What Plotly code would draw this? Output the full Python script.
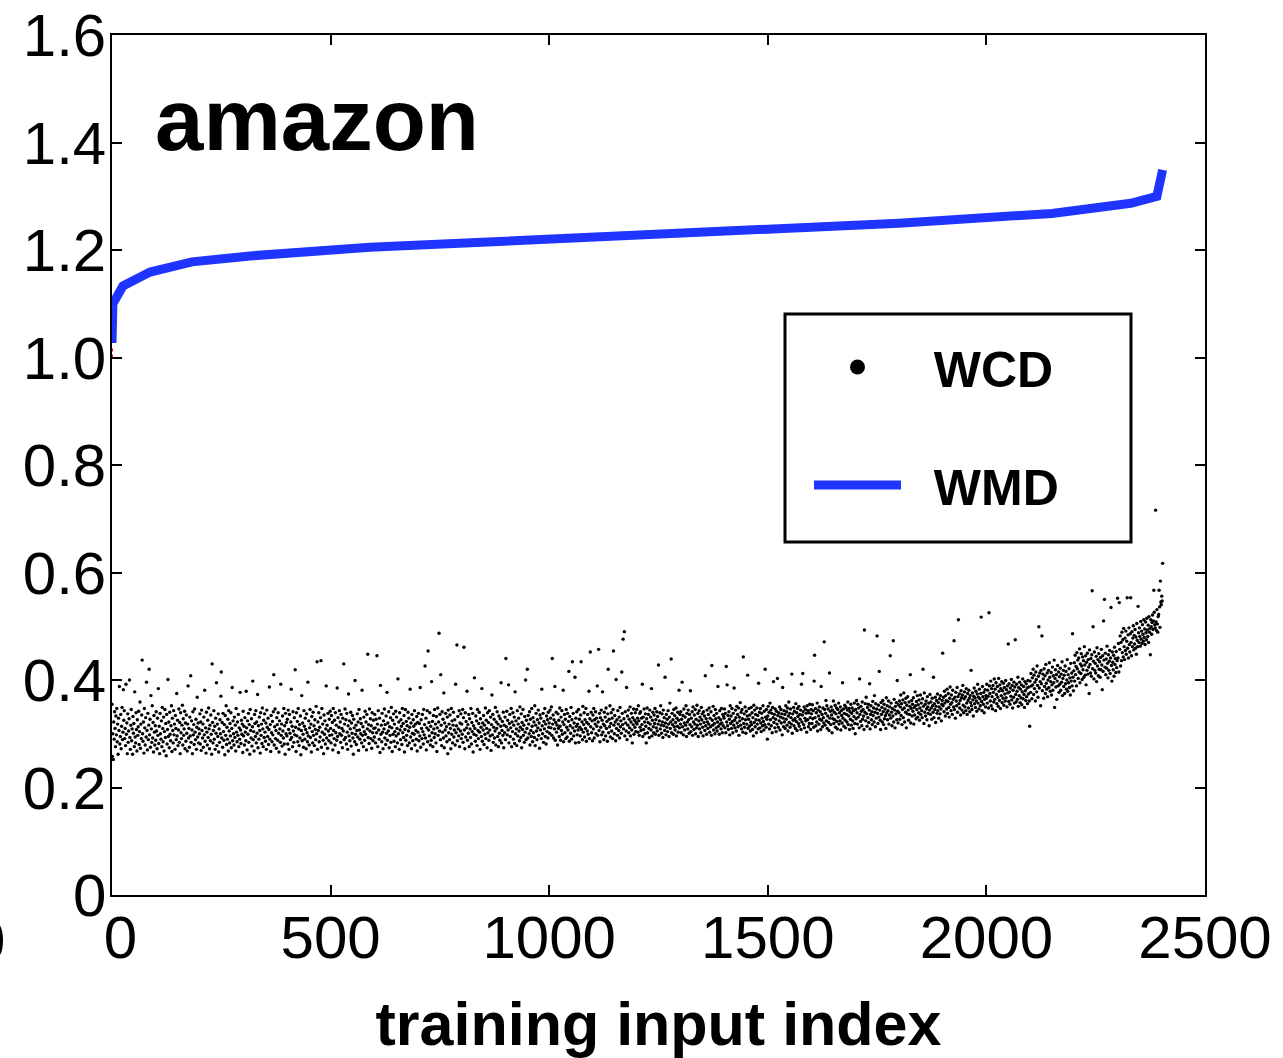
import plotly.graph_objects as go

# ---------------- data ----------------
x_tick_vals = [0, 500, 1000, 1500, 2000, 2500]
x_tick_text = ["\u00a00", "500", "1000", "1500", "2000", "2500"]
y_tick_vals = [0, 0.2, 0.4, 0.6, 0.8, 1.0, 1.2, 1.4, 1.6]
y_tick_text = ["0", "0.2", "0.4", "0.6", "0.8", "1.0", "1.2", "1.4", "1.6"]

# WMD curve (sorted distances), read at key indices
wmd_index = [0, 0, 2, 25, 87, 183, 316, 590, 1000, 1500, 1800, 2150, 2330, 2390, 2403]
wmd_value = [1.027, 1.09, 1.10, 1.133, 1.159, 1.178, 1.189, 1.205, 1.22, 1.237, 1.25, 1.268, 1.287, 1.30, 1.349]

# small red stub visible at x=0 just below the WMD start
red_index = [0, 0]
red_value = [1.0, 1.022]

# WCD values (in thousandths), one list per 100 training inputs
wcd_0000 = [355,258,300,252,322,290,341,310,276,333, 298,347,285,318,262,329,306,388,281,295, 336,272,314,349,289,303,382,325,343,291, 310,278,392,299,320,263,337,284,305,328, 400,293,271,316,345,287,309,262,332,301, 319,276,378,294,283,339,308,268,326,297, 313,342,280,304,359,273,318,291,335,437, 300,286,322,264,347,311,279,330,294,396, 306,270,338,289,316,420,298,327,275,371, 309,284,352,292,321,266,334,303,279,315]
wcd_0100 = [288,341,305,272,329,297,384,282,314,263, 338,300,290,324,276,349,310,285,331,268, 304,345,293,319,259,336,281,308,401,295, 322,274,340,299,287,315,352,267,329,306, 283,343,298,318,271,334,310,289,375,296, 325,278,307,346,284,321,263,339,302,291, 316,353,279,328,297,309,342,272,320,286, 335,301,268,318,389,292,310,275,331,296, 408,284,324,307,263,341,298,317,280,346, 303,289,327,271,312,368,294,320,283,309]
wcd_0200 = [300,337,281,322,269,344,306,292,318,275, 331,298,381,286,311,264,340,303,279,325, 293,348,309,272,316,287,335,299,262,430, 321,283,306,343,290,314,271,329,301,395, 278,318,295,337,266,309,284,326,300,370, 415,292,321,275,338,304,288,317,261,334, 297,352,280,312,290,327,268,343,305,283, 319,296,339,274,310,386,287,324,300,279, 331,293,316,268,347,303,285,322,297,336, 276,311,290,377,307,282,325,299,318,265]
wcd_0300 = [342,296,314,279,330,303,287,379,311,270, 324,299,338,284,317,262,345,306,292,328, 277,313,398,289,304,268,336,319,295,343, 283,322,301,373,274,315,290,331,306,264, 339,297,318,282,348,309,276,325,293,337, 303,286,320,271,344,312,295,329,280,308, 387,290,317,267,334,302,285,323,298,341, 410,279,313,346,291,306,273,330,317,288, 339,301,266,324,309,284,392,297,318,277, 333,305,292,347,281,315,262,338,300,321]
wcd_0400 = [296,327,281,344,308,271,336,301,289,322, 383,293,314,276,341,305,284,330,298,419, 312,267,339,296,323,285,347,309,278,317, 292,333,261,306,371,287,320,299,275,343, 314,290,329,308,272,337,302,285,396,296, 324,279,311,345,293,318,266,332,304,283, 340,297,315,278,326,308,289,351,300,434, 271,322,306,339,285,312,294,330,436,275, 347,303,318,288,263,335,299,324,281,309, 389,292,316,273,338,305,287,327,297,342]
wcd_0500 = [310,283,334,298,321,270,347,306,291,325, 279,339,302,316,288,385,295,330,265,312, 343,300,322,284,336,297,310,274,329,305, 430,289,318,346,293,326,281,338,303,271, 315,374,296,324,287,309,340,277,320,301, 334,292,262,327,311,285,399,299,316,280, 306,337,294,322,269,345,307,290,328,300, 319,283,381,297,313,276,331,304,288,342, 299,322,270,336,309,448,293,317,282,346, 305,328,291,315,273,339,302,287,325,310]
wcd_0600 = [294,336,311,283,327,302,445,318,276,343, 307,290,329,265,390,299,316,285,338,303, 272,324,309,346,292,317,280,333,301,377, 288,320,305,341,274,313,297,330,284,349, 311,267,325,299,337,286,318,304,276,342, 296,331,310,283,402,300,322,271,339,307, 289,326,314,280,347,302,319,293,334,266, 308,345,288,323,297,315,278,340,305,329, 283,312,383,294,320,272,336,301,287,326, 314,299,343,279,318,306,290,332,268,321]
wcd_0700 = [303,338,287,319,296,386,275,326,310,291, 336,304,281,345,298,317,426,292,329,270, 311,343,285,454,307,321,296,339,279,314, 288,397,302,323,276,334,309,293,345,300, 318,283,332,267,311,348,297,322,487,305, 336,289,410,316,278,341,303,327,292,376, 274,320,307,338,296,313,285,331,263,344, 302,318,289,335,310,272,347,299,324,283, 316,340,294,307,326,279,392,302,315,465, 287,332,309,296,343,276,320,305,337,291]
wcd_0800 = [318,299,345,284,330,461,307,272,339,294, 323,311,379,288,317,301,336,276,328,309, 293,347,281,321,304,338,266,315,299,404, 310,286,333,297,324,278,345,306,291,319, 340,303,271,328,312,295,384,286,320,307, 334,280,316,299,348,291,325,310,274,339, 302,321,288,343,307,296,331,269,317,372, 298,336,284,312,327,292,305,349,279,322, 310,341,295,318,276,333,301,288,328,314, 395,283,306,323,297,340,274,316,302,331]
wcd_0900 = [289,440,313,342,298,325,307,391,283,319, 336,295,311,347,276,322,304,339,290,316, 331,282,378,300,324,309,278,343,296,318, 329,305,287,350,312,293,337,274,321,308, 345,297,316,284,332,303,400,289,325,310, 420,292,334,318,300,341,279,327,306,295, 347,314,285,330,302,322,293,352,278,316, 338,305,289,326,311,344,297,320,273,335, 307,329,291,383,315,300,338,284,323,309, 347,295,318,281,333,304,326,292,340,312]
wcd_1000 = [320,301,344,329,311,350,297,440,318,335, 292,326,309,388,288,321,340,303,316,279, 337,310,325,295,348,314,288,331,306,343, 299,322,381,285,317,336,302,327,291,345, 312,294,338,307,323,416,286,332,315,301, 349,290,326,434,311,338,296,320,305,405, 283,329,314,341,298,318,307,345,284,327, 312,296,335,434,308,322,289,351,303,317, 339,294,326,310,347,286,321,305,336,299, 318,379,291,328,452,313,340,302,324,287]
wcd_1100 = [335,309,347,292,326,318,341,300,329,314, 389,297,322,457,306,338,285,330,312,344, 298,325,378,303,318,289,340,315,331,296, 348,310,323,286,337,420,302,327,313,352, 294,319,339,305,329,291,345,454,316,300, 334,322,287,401,310,326,297,343,318,306, 331,292,349,313,324,301,415,338,317,476, 309,328,490,296,341,320,305,386,289,333, 316,344,302,327,311,350,296,322,338,307, 283,330,317,346,299,325,312,339,304,321]
wcd_1200 = [345,318,329,303,352,324,297,338,312,341, 306,329,317,392,295,331,308,346,322,300, 337,314,283,328,348,302,321,336,310,293, 344,318,331,307,384,296,325,340,313,302, 335,319,347,299,326,311,341,305,332,318, 428,297,324,339,309,352,316,301,337,322, 293,344,315,330,306,405,320,298,336,312, 327,304,343,318,295,331,357,310,322,439, 302,338,317,326,299,345,313,334,307,321, 348,296,329,314,340,303,325,381,311,336]
wcd_1300 = [318,341,302,327,396,313,334,298,346,320, 307,331,316,352,295,338,322,309,344,326, 301,336,317,380,304,329,313,341,297,350, 322,308,335,318,345,300,327,311,353,316, 338,295,324,343,309,331,318,302,349,326, 337,312,296,341,321,333,306,408,315,328, 299,344,322,310,336,318,348,303,329,313, 341,297,427,325,316,351,307,334,319,300, 345,328,311,338,305,322,388,314,330,299, 343,318,326,309,347,320,302,336,315,332]
wcd_1400 = [329,346,311,338,302,425,322,391,315,334, 308,341,327,298,352,319,333,310,347,323, 302,338,316,385,325,311,344,330,305,351, 320,336,313,348,297,331,324,358,316,340, 309,345,328,303,443,319,337,312,350,326, 301,342,318,333,409,310,327,347,314,335, 305,322,349,317,339,308,330,296,353,321, 344,313,336,326,302,348,318,334,309,394, 325,340,311,347,320,304,338,329,315,352, 323,307,342,317,420,331,312,345,327,290]
wcd_1500 = [333,351,318,340,309,357,326,344,315,338, 302,349,330,397,321,336,311,346,327,304, 342,318,403,334,312,339,324,350,307,331, 345,320,337,298,386,329,313,343,322,336, 310,352,327,341,316,348,305,333,359,321, 338,312,346,330,318,411,301,337,325,349, 315,342,328,310,356,323,339,306,347,332, 319,351,314,336,327,344,308,392,322,335, 412,341,317,350,311,329,345,324,338,303, 352,326,343,313,339,319,355,330,308,345]
wcd_1600 = [337,319,354,328,343,312,398,446,330,347, 315,339,322,357,305,344,333,318,350,327, 341,308,388,325,336,313,348,330,320,471, 345,316,338,362,324,352,310,333,346,321, 306,413,329,342,317,350,335,302,344,328, 361,319,340,326,353,312,337,348,323,309, 345,331,357,318,339,324,350,307,343,334, 320,395,329,346,314,338,353,325,311,349, 336,322,344,359,317,333,347,308,341,327, 355,316,338,348,324,310,343,332,357,319]
wcd_1700 = [300,345,328,362,339,318,355,331,348,311, 402,336,323,351,342,315,359,327,345,333, 308,493,340,356,324,368,337,314,349,330, 355,321,344,393,309,336,352,326,341,317, 360,334,348,322,371,340,313,356,329,346, 482,338,319,353,331,416,344,325,308,358, 336,349,322,362,341,317,355,328,346,334, 310,367,339,352,326,343,361,318,335,350, 445,329,357,340,315,347,333,473,322,364, 344,311,351,337,358,326,399,342,320,354]
wcd_1800 = [339,361,327,350,372,334,356,317,345,363, 330,376,348,322,358,340,366,311,353,337, 369,344,325,359,336,351,410,320,347,362, 333,355,342,367,318,349,335,378,352,328, 360,345,371,331,354,339,363,325,348,372, 336,357,343,330,365,420,351,319,376,340, 355,333,361,346,326,369,350,338,357,315, 344,373,336,359,348,327,366,352,340,405, 330,356,345,368,321,351,362,338,374,343, 358,329,350,365,337,371,346,324,355,362]
wcd_1900 = [450,352,368,341,379,357,333,371,362,346, 383,338,360,375,349,331,366,387,355,343, 372,358,336,381,364,350,473,345,368,329, 377,361,352,386,340,369,512,356,374,348, 362,335,380,367,344,372,390,353,339,365, 378,350,369,343,384,357,336,375,362,348, 381,366,341,371,358,418,352,345,376,363, 333,370,385,356,367,349,379,361,342,374, 392,357,368,346,383,365,352,375,517,360, 343,388,369,355,377,339,364,382,350,371]
wcd_2000 = [366,392,357,381,370,348,525,389,375,361, 398,352,384,369,346,390,377,359,402,364, 383,343,395,373,356,388,368,351,403,379, 362,391,347,384,371,397,358,380,366,394, 353,386,374,361,399,367,382,350,389,376, 467,360,393,378,355,385,370,401,363,390, 348,381,368,396,357,387,475,373,359,392, 379,364,405,351,386,371,396,358,383,367, 391,354,378,402,365,388,373,349,397,380, 362,393,369,385,356,399,374,387,361,314]
wcd_2100 = [398,377,412,389,365,404,391,420,373,409, 384,396,361,415,401,378,426,390,368,407, 499,385,413,397,352,418,393,482,380,411, 402,366,421,388,408,375,429,394,383,413, 369,400,418,386,432,405,379,397,414,372, 391,424,381,408,395,437,349,403,419,387, 410,364,398,427,389,415,377,406,392,422, 381,411,396,434,371,403,418,388,409,375, 426,393,416,383,400,438,379,410,395,421, 386,404,372,431,398,413,389,486,405,380]
wcd_2200 = [417,432,398,446,410,425,389,451,421,437, 403,441,415,458,395,430,412,449,426,401, 443,419,436,405,462,428,409,445,391,433, 418,450,411,438,424,375,456,429,413,440, 407,447,566,421,499,435,402,452,418,431, 413,444,397,460,426,438,408,449,420,434, 405,442,419,457,428,382,445,416,510,437, 550,424,450,410,439,422,463,431,404,447, 418,435,455,412,441,535,427,398,452,433, 419,446,407,461,429,440,414,453,423,436]
wcd_2300 = [552,441,468,415,544,457,482,426,470,436, 489,451,475,443,496,462,438,478,455,491, 448,472,553,459,484,441,497,466,452,486, 553,470,445,490,462,478,501,456,483,467, 494,459,480,448,505,474,462,537,488,470, 497,481,463,509,476,491,468,503,485,472, 512,479,495,466,508,488,475,515,493,481, 502,470,518,489,496,447,512,499,485,507, 521,494,510,567,526,503,497,716,508,492, 531,504,489,518,522,567,536,498,584,545]
wcd_2400 = [540,556,547,617]

wcd_chunks = [wcd_0000, wcd_0100, wcd_0200, wcd_0300, wcd_0400, wcd_0500, wcd_0600,
              wcd_0700, wcd_0800, wcd_0900, wcd_1000, wcd_1100, wcd_1200, wcd_1300,
              wcd_1400, wcd_1500, wcd_1600, wcd_1700, wcd_1800, wcd_1900, wcd_2000,
              wcd_2100, wcd_2200, wcd_2300, wcd_2400]

wcd_value = [v / 1000.0 for chunk in wcd_chunks for v in chunk]
wcd_index = list(range(len(wcd_value)))

# ---------------- figure ----------------
FONT = "Liberation Sans, Arial, Helvetica, sans-serif"
W, H = 1283, 1058
ML, MR, MT, MB = 112, 78, 35, 163
PW, PH = W - ML - MR, H - MT - MB


def px_x(px):
    return (px - ML) / PW


def px_y(py):
    return (H - MB - py) / PH


NB = "\u00a0"

fig = go.Figure()

fig.add_trace(go.Scatter(
    x=wcd_index, y=wcd_value, mode="markers",
    marker=dict(color="black", size=3.4, line=dict(width=0)),
    name="WCD", showlegend=False, legendgroup="wcd",
))
fig.add_trace(go.Scatter(
    x=red_index, y=red_value, mode="lines",
    line=dict(color="red", width=2, dash="dot"),
    showlegend=False, hoverinfo="skip",
))
fig.add_trace(go.Scatter(
    x=wmd_index, y=wmd_value, mode="lines",
    line=dict(color="#1f35ff", width=9),
    name=NB * 2 + "WMD", legendgroup="wmd", legendrank=2,
))
# legend-only entry for WCD with a large dot
fig.add_trace(go.Scatter(
    x=[None], y=[None], mode="markers",
    marker=dict(color="black", size=15),
    name=NB * 2 + "WCD", legendgroup="wcd", legendrank=1,
))

axis_common = dict(
    showline=True, linecolor="black", linewidth=1.5, mirror="ticks",
    ticks="inside", ticklen=10, tickwidth=1.5, tickcolor="black",
    showgrid=False, zeroline=False,
    tickfont=dict(family=FONT, size=60, color="black"),
)

fig.update_layout(
    width=W, height=H,
    margin=dict(l=ML, r=MR, t=MT, b=MB, autoexpand=False),
    paper_bgcolor="white", plot_bgcolor="white",
    xaxis=dict(range=[0, 2500], tickvals=x_tick_vals, ticktext=x_tick_text,
               ticklabelstandoff=-11,
               title=dict(text="training input index", standoff=43,
                          font=dict(family=FONT, size=61, color="black", weight="bold")),
               **axis_common),
    yaxis=dict(range=[0, 1.6], tickvals=y_tick_vals, ticktext=y_tick_text,
               ticklabelstandoff=-8, **axis_common),
    legend=dict(
        x=px_x(785), y=px_y(328), xanchor="left", yanchor="top",
        borderwidth=0, bgcolor="rgba(0,0,0,0)",
        font=dict(family=FONT, size=50, color="black", weight="bold"),
        traceorder="grouped", tracegroupgap=50, indentation=24, itemwidth=87,
    ),
    shapes=[
        dict(type="rect", xref="paper", yref="paper",
             x0=px_x(785), x1=px_x(1131), y0=px_y(542), y1=px_y(314),
             line=dict(color="black", width=3), fillcolor="white", layer="above"),
    ],
    annotations=[
        dict(text="amazon", xref="paper", yref="paper", x=px_x(153), y=px_y(119),
             xanchor="left", yanchor="middle", showarrow=False,
             font=dict(family=FONT, size=87, color="black", weight="bold")),
        dict(text="0", xref="paper", yref="paper", x=px_x(7), y=px_y(940),
             xanchor="right", yanchor="middle", showarrow=False,
             font=dict(family=FONT, size=60, color="black")),
    ],
    showlegend=True,
)

fig.write_html("out.html", config={"displayModeBar": False},
               post_script="document.body.style.margin='0px';")
